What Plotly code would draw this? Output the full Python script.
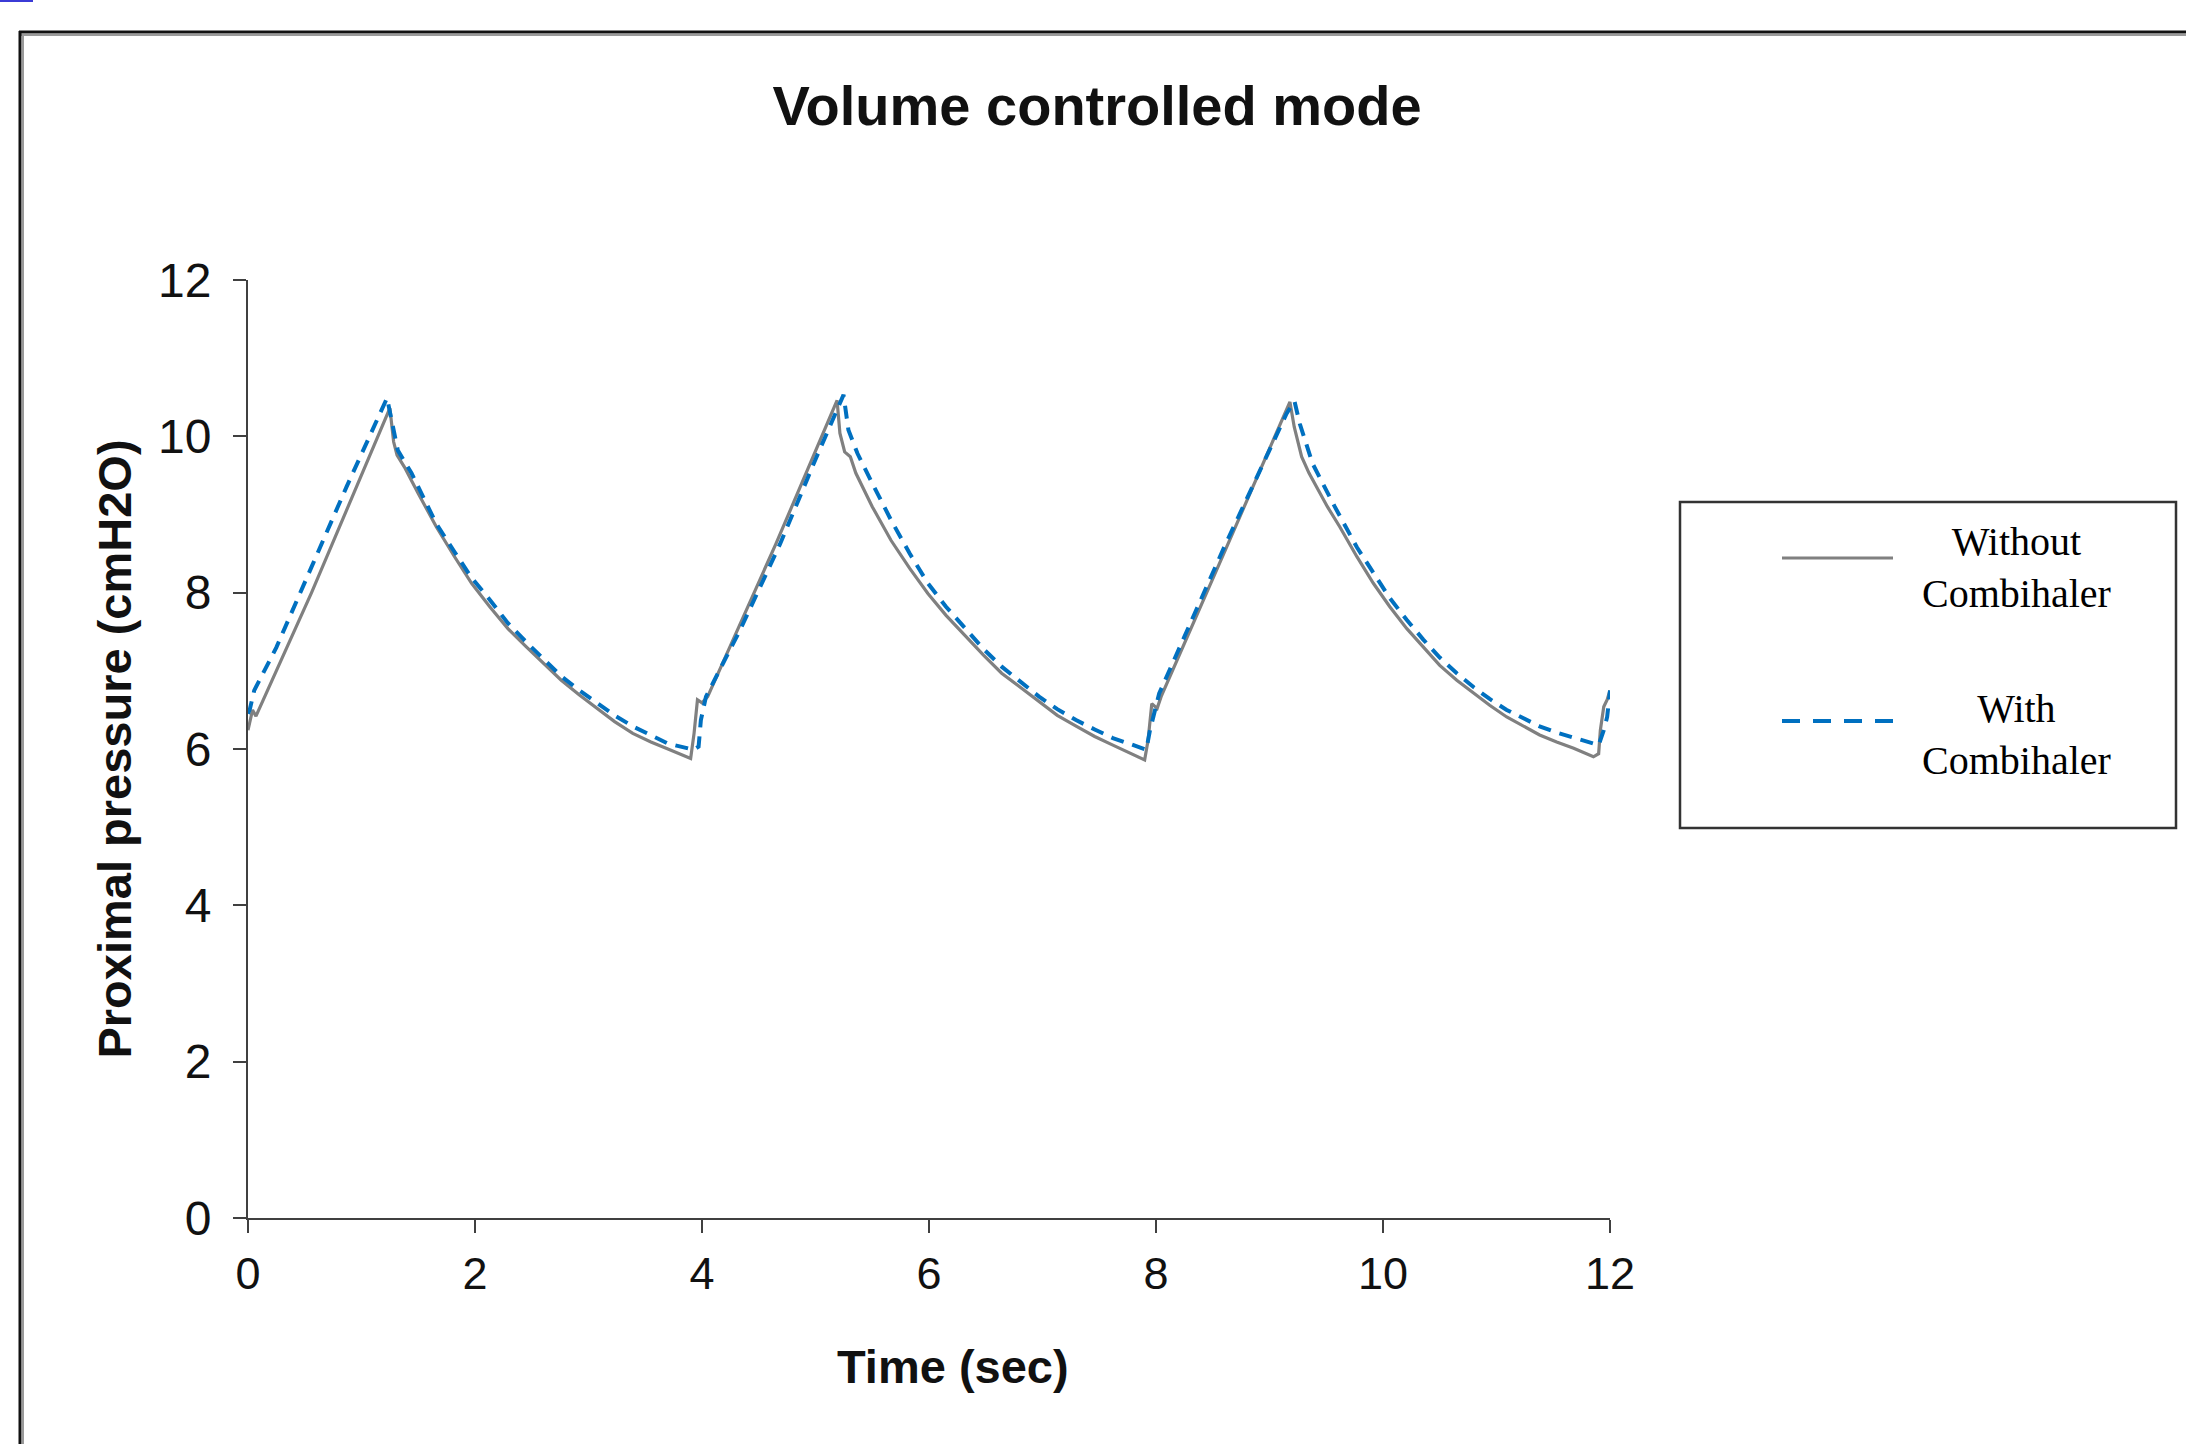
import plotly.graph_objects as go

# ---------------- data ----------------
series_names = ["Without<br>Combihaler", "With<br>Combihaler"]

time_without = [0.00, 0.04, 0.07, 0.56, 1.25, 1.283, 1.313, 1.377, 1.50, 1.66, 1.82, 1.97, 2.13, 2.29,
                2.45, 2.60, 2.76, 2.92, 3.08, 3.23, 3.39, 3.55, 3.70, 3.90, 3.93, 3.96, 4.00, 4.05,
                4.65, 5.19, 5.215, 5.257, 5.307, 5.355, 5.50, 5.665, 5.83, 5.99, 6.15, 6.32, 6.48,
                6.64, 6.81, 6.97, 7.13, 7.30, 7.46, 7.62, 7.78, 7.90, 7.93, 7.963, 8.01, 8.045,
                8.60, 9.18, 9.218, 9.283, 9.348, 9.51, 9.62, 9.77, 9.915, 10.06, 10.21, 10.355,
                10.50, 10.65, 10.80, 10.94, 11.09, 11.24, 11.38, 11.53, 11.68, 11.854, 11.90,
                11.915, 11.945, 11.975, 12.0]
pressure_without = [6.24, 6.50, 6.42, 8.00, 10.36, 9.93, 9.76, 9.61, 9.27, 8.84, 8.46, 8.12, 7.82, 7.54,
                    7.31, 7.10, 6.88, 6.69, 6.52, 6.35, 6.20, 6.09, 6.00, 5.88, 6.20, 6.63, 6.59, 6.67,
                    8.62, 10.46, 10.04, 9.80, 9.74, 9.53, 9.10, 8.67, 8.31, 7.99, 7.71, 7.44, 7.20,
                    6.97, 6.78, 6.61, 6.43, 6.29, 6.16, 6.05, 5.94, 5.86, 6.11, 6.58, 6.52, 6.67,
                    8.51, 10.44, 10.12, 9.74, 9.53, 9.10, 8.84, 8.46, 8.12, 7.82, 7.54, 7.31,
                    7.07, 6.88, 6.71, 6.56, 6.41, 6.29, 6.18, 6.09, 6.01, 5.90, 5.94,
                    6.24, 6.54, 6.63, 6.75]

time_with = [0.00, 0.018, 0.055, 0.25, 0.56, 0.87, 1.225, 1.283, 1.32, 1.44, 1.66, 1.82, 1.97, 2.13,
             2.29, 2.45, 2.60, 2.76, 2.92, 3.08, 3.23, 3.39, 3.55, 3.70, 3.926, 3.97, 3.99, 4.035,
             4.335, 4.687, 5.01, 5.176, 5.247, 5.29, 5.37, 5.50, 5.665, 5.83, 5.99, 6.15, 6.317,
             6.48, 6.643, 6.81, 6.97, 7.13, 7.295, 7.46, 7.62, 7.78, 7.915, 7.947, 8.028, 8.60,
             9.15, 9.22, 9.267, 9.38, 9.575, 9.77, 9.915, 10.06, 10.21, 10.355, 10.50, 10.65,
             10.80, 10.94, 11.09, 11.24, 11.38, 11.53, 11.68, 11.90, 11.945, 11.975, 12.0]
pressure_with = [6.45, 6.52, 6.75, 7.30, 8.33, 9.36, 10.49, 10.08, 9.82, 9.53, 8.88, 8.52, 8.19, 7.91,
                 7.61, 7.37, 7.15, 6.93, 6.75, 6.58, 6.43, 6.29, 6.17, 6.07, 5.99, 6.03, 6.37, 6.67,
                 7.52, 8.62, 9.74, 10.29, 10.53, 10.08, 9.78, 9.40, 8.93, 8.50, 8.12, 7.82, 7.54,
                 7.28, 7.05, 6.85, 6.67, 6.51, 6.37, 6.25, 6.14, 6.06, 5.99, 6.24, 6.71, 8.58,
                 10.29, 10.45, 10.16, 9.65, 9.10, 8.58, 8.25, 7.93, 7.65, 7.40, 7.17, 6.97,
                 6.79, 6.64, 6.50, 6.39, 6.29, 6.21, 6.14, 6.05, 6.24, 6.41, 6.75]

x_ticks = [0, 2, 4, 6, 8, 10, 12]
y_ticks = [0, 2, 4, 6, 8, 10, 12]

title_text = "Volume controlled mode"
x_title = "Time (sec)"
y_title = "Proximal pressure (cmH2O)"

# ---------------- styling ----------------
W, H = 2186, 1444
L, R, T, B = 248, 576, 280, 226
PW, PH = W - L - R, H - T - B

GREY = "#808080"
BLUE = "#0070C0"
AXIS = "#404040"
SANS = "Arial, Liberation Sans, sans-serif"
SERIF = "Times New Roman, Liberation Serif, serif"


def px2x(px):
    return (px - L) / PW


def px2y(py):
    return (H - B - py) / PH


fig = go.Figure()
fig.add_trace(go.Scatter(x=time_without, y=pressure_without, mode="lines",
                         name=series_names[0].replace("<br>", " "),
                         line=dict(color=GREY, width=3.2)))
fig.add_trace(go.Scatter(x=time_with, y=pressure_with, mode="lines",
                         name=series_names[1].replace("<br>", " "),
                         line=dict(color=BLUE, width=4, dash="13px,9px")))

axis_common = dict(showgrid=False, zeroline=False, showline=True, linecolor=AXIS, linewidth=2,
                   ticks="outside", ticklen=13, tickwidth=2, tickcolor=AXIS)

fig.update_xaxes(range=[0, 12], tickvals=x_ticks, ticktext=[str(v) for v in x_ticks],
                 ticklabelstandoff=2,
                 tickfont=dict(family=SANS, size=45, color="#111111"),
                 **axis_common)
fig.update_yaxes(range=[0, 12], tickvals=y_ticks, ticktext=[str(v) for v in y_ticks],
                 ticklabelstandoff=12,
                 tickfont=dict(family=SANS, size=48, color="#111111"),
                 title=dict(text="<b>" + y_title + "</b>", standoff=12,
                            font=dict(family=SANS, size=47, color="#111111")),
                 **axis_common)

shapes = []
# outer frame (top and left edges visible in the reference)
shapes.append(dict(type="line", xref="paper", yref="paper", x0=px2x(19), x1=px2x(W + 5),
                   y0=px2y(32), y1=px2y(32), line=dict(color="#111111", width=3)))
shapes.append(dict(type="line", xref="paper", yref="paper", x0=px2x(21), x1=px2x(W + 5),
                   y0=px2y(35), y1=px2y(35), line=dict(color="#9a9a9a", width=2)))
shapes.append(dict(type="line", xref="paper", yref="paper", x0=px2x(20), x1=px2x(20),
                   y0=px2y(31), y1=px2y(H + 5), line=dict(color="#111111", width=3)))
shapes.append(dict(type="line", xref="paper", yref="paper", x0=px2x(23), x1=px2x(23),
                   y0=px2y(34), y1=px2y(H + 5), line=dict(color="#9a9a9a", width=2)))
# small blue mark at the top-left corner
shapes.append(dict(type="rect", xref="paper", yref="paper", x0=px2x(0), x1=px2x(33),
                   y0=px2y(2), y1=px2y(0), fillcolor="#3b3bd6", line=dict(width=0)))
# legend box
shapes.append(dict(type="rect", xref="paper", yref="paper", x0=px2x(1680), x1=px2x(2176),
                   y0=px2y(828), y1=px2y(502), line=dict(color="#333333", width=2.5),
                   fillcolor="rgba(0,0,0,0)"))
# legend samples
shapes.append(dict(type="line", xref="paper", yref="paper", x0=px2x(1782), x1=px2x(1893),
                   y0=px2y(558), y1=px2y(558), line=dict(color=GREY, width=3.2)))
shapes.append(dict(type="line", xref="paper", yref="paper", x0=px2x(1782), x1=px2x(1893),
                   y0=px2y(721), y1=px2y(721), line=dict(color=BLUE, width=4, dash="18px,13px")))

annotations = [
    dict(xref="paper", yref="paper", x=px2x(2016), y=px2y(567), text=series_names[0],
         showarrow=False, align="center", xanchor="center", yanchor="middle",
         font=dict(family=SERIF, size=40, color="#000000")),
    dict(xref="paper", yref="paper", x=px2x(2016), y=px2y(734), text=series_names[1],
         showarrow=False, align="center", xanchor="center", yanchor="middle",
         font=dict(family=SERIF, size=40, color="#000000")),
    # x-axis title
    dict(xref="paper", yref="paper", x=px2x(953), y=px2y(1366), text="<b>" + x_title + "</b>",
         showarrow=False, xanchor="center", yanchor="middle",
         font=dict(family=SANS, size=47, color="#111111")),
]

fig.update_layout(
    width=W, height=H,
    margin=dict(l=L, r=R, t=T, b=B, autoexpand=False),
    paper_bgcolor="white", plot_bgcolor="white",
    showlegend=False,
    title=dict(text="<b>" + title_text + "</b>", xref="container", yref="container",
               x=1097 / W, y=1 - 105 / H, xanchor="center", yanchor="middle",
               font=dict(family=SANS, size=56, color="#111111")),
    shapes=shapes,
    annotations=annotations,
)

fig.write_html("out.html", config={"displayModeBar": False},
               post_script="document.body.style.margin='0';document.body.style.overflow='hidden';")
